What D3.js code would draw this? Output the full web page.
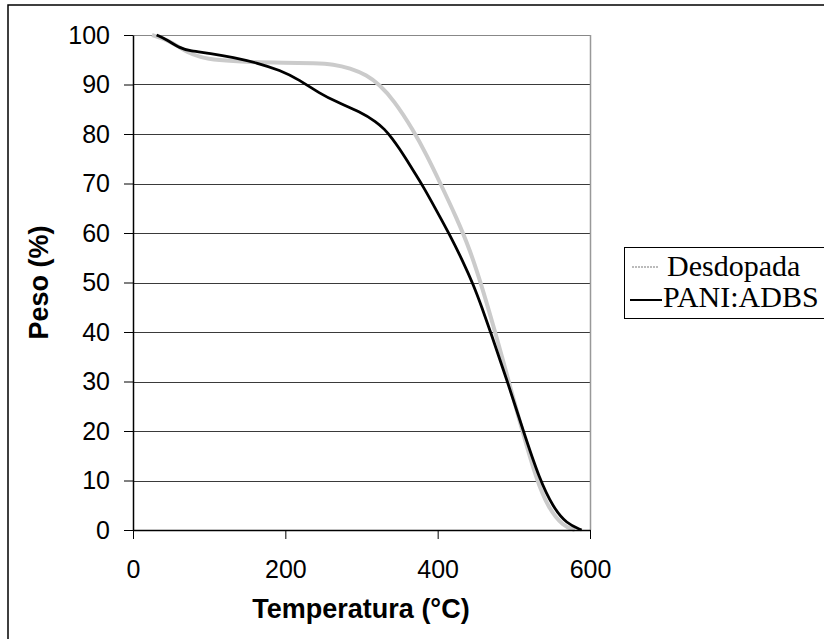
<!DOCTYPE html>
<html>
<head>
<meta charset="utf-8">
<script src="https://cdn.jsdelivr.net/npm/d3@7"></script>
<style>
	body { margin: 0; background: #fff; }
	svg { display: block; }
</style>
</head>
<body>
<div id="chart"></div>
<script>
// desdopada (gray)
var tempDesdopada = [25, 45, 58, 70, 88, 110, 154, 197, 240, 263, 285, 307, 324, 342, 368, 386, 403, 425, 442, 460, 480, 491, 512, 530, 545, 565, 580];
var pesoDesdopada = [100, 99, 97.8, 96.6, 95.5, 94.9, 94.5, 94.4, 94.3, 94.1, 93.3, 91.9, 89.9, 86.9, 80.8, 75.6, 70.2, 63.0, 56.8, 48.3, 37.5, 31.3, 19.5, 10.1, 4.5, 0.7, 0];

// PANI:ADBS (black)
var tempPani = [31, 45, 62, 75, 101, 132, 162, 193, 219, 245, 267, 298, 320, 330, 340, 350, 360, 370, 381, 399, 416, 434, 447, 458, 469, 491, 512, 534, 552, 569, 589];
var pesoPani = [100, 99, 97.3, 96.8, 96.3, 95.5, 94.4, 92.9, 90.9, 88.2, 86.5, 84.5, 82.4, 81.0, 79.2, 77.0, 74.6, 72.1, 69.4, 64.4, 59.6, 54.0, 49.5, 45.0, 40.2, 30.3, 20.2, 10.1, 4.5, 1.3, 0];

var xTicks = [0, 200, 400, 600];
var yTicks = [0, 10, 20, 30, 40, 50, 60, 70, 80, 90, 100];
var seriesNames = ['Desdopada', 'PANI:ADBS'];

var width = 824;
var height = 639;
var plotLeft = 133;
var plotRight = 590;
var plotTop = 35;
var plotBottom = 530;

var svg = d3.select('#chart')
	.append('svg')
	.attr('width', width)
	.attr('height', height);

// outer chart border, runs off the canvas
svg.append('rect')
	.attr('x', 8)
	.attr('y', 5)
	.attr('width', 1000)
	.attr('height', 1000)
	.style('fill', 'none')
	.style('stroke', '#000')
	.style('stroke-width', 1.5);

var xScale = d3.scaleLinear().domain([0, 600]).range([plotLeft, plotRight]);
var yScale = d3.scaleLinear().domain([0, 100]).range([plotBottom, plotTop]);

// gridlines
svg.append('g').selectAll('line')
	.data(yTicks.filter(function(d) { return d > 0; }))
	.enter().append('line')
	.attr('x1', plotLeft)
	.attr('x2', plotRight)
	.attr('y1', function(d) { return Math.round(yScale(d)) + 0.5; })
	.attr('y2', function(d) { return Math.round(yScale(d)) + 0.5; })
	.style('stroke', function(d) { return d === 100 ? '#888' : '#3a3a3a'; })
	.style('stroke-width', 1);

// right border of plot
svg.append('line')
	.attr('x1', plotRight + 0.5)
	.attr('x2', plotRight + 0.5)
	.attr('y1', plotTop)
	.attr('y2', plotBottom)
	.style('stroke', '#999')
	.style('stroke-width', 1.5);

var line = function(xs, ys) {
	var pts = xs.map(function(t, i) { return [t, ys[i]]; });
	return d3.line()
		.x(function(d) { return xScale(d[0]); })
		.y(function(d) { return yScale(d[1]); })
		.curve(d3.curveBasis)(pts);
};

svg.append('path')
	.attr('d', line(tempDesdopada, pesoDesdopada))
	.style('fill', 'none')
	.style('stroke', '#cbcbcb')
	.style('stroke-width', 4);

svg.append('path')
	.attr('d', line(tempPani, pesoPani))
	.style('fill', 'none')
	.style('stroke', '#000')
	.style('stroke-width', 2.8);

// axes
var yAxis = svg.append('g')
	.attr('transform', 'translate(' + plotLeft + ',0)')
	.call(d3.axisLeft(yScale).tickValues(yTicks).tickSize(9).tickSizeOuter(0).tickPadding(14));

var xAxis = svg.append('g')
	.attr('transform', 'translate(0,' + plotBottom + ')')
	.call(d3.axisBottom(xScale).tickValues(xTicks).tickSize(9).tickSizeOuter(0).tickPadding(21));

[yAxis, xAxis].forEach(function(ax) {
	ax.select('.domain').style('stroke', '#000').style('stroke-width', 1.5);
	ax.selectAll('.tick line').style('stroke', '#000');
	ax.selectAll('text')
		.style('font-family', 'Liberation Sans, Arial, sans-serif')
		.style('font-size', '25px')
		.style('fill', '#000');
});

// axis titles
svg.append('text')
	.text('Temperatura (°C)')
	.attr('x', 361)
	.attr('y', 618)
	.style('text-anchor', 'middle')
	.style('font-family', 'Liberation Sans, Arial, sans-serif')
	.style('font-weight', 'bold')
	.style('font-size', '27px');

svg.append('text')
	.text('Peso (%)')
	.attr('transform', 'translate(48,' + (plotTop + plotBottom) / 2 + ') rotate(-90)')
	.style('text-anchor', 'middle')
	.style('font-family', 'Liberation Sans, Arial, sans-serif')
	.style('font-weight', 'bold')
	.style('font-size', '27px');

// legend
var legend = svg.append('g');
legend.append('rect')
	.attr('x', 624.5)
	.attr('y', 247.5)
	.attr('width', 400)
	.attr('height', 71)
	.style('fill', '#fff')
	.style('stroke', '#000')
	.style('stroke-width', 1);

var legendRows = legend.selectAll('g')
	.data(seriesNames)
	.enter().append('g')
	.attr('transform', function(d, i) { return 'translate(0,' + (i * 31) + ')'; });

legendRows.append('line')
	.attr('x1', function(d, i) { return i === 0 ? 632 : 630; })
	.attr('x2', function(d, i) { return i === 0 ? 658 : 662; })
	.attr('y1', function(d, i) { return i === 0 ? 267 : 269; })
	.attr('y2', function(d, i) { return i === 0 ? 267 : 269; })
	.style('stroke', function(d, i) { return i === 0 ? '#bbb' : '#000'; })
	.style('stroke-width', 2)
	.style('stroke-dasharray', function(d, i) { return i === 0 ? '2,1' : null; });

legendRows.append('text')
	.text(function(d) { return d; })
	.attr('x', function(d, i) { return i === 0 ? 667 : 663; })
	.attr('y', 276)
	.style('font-family', 'Liberation Serif, Times New Roman, serif')
	.style('font-size', '30px');
</script>
</body>
</html>
